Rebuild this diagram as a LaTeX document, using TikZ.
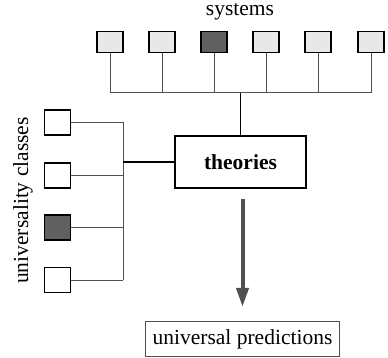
\documentclass[tikz,border=0pt]{standalone}
\usepackage{fontspec}
\setmainfont{Liberation Serif}
\usetikzlibrary{arrows.meta}
\definecolor{lightbox}{HTML}{E8E8E8}
\definecolor{darkbox}{HTML}{606060}
\definecolor{linegray}{HTML}{505050}
\begin{document}
\begin{tikzpicture}[x=1pt,y=-1pt,
  sysbox/.style={draw=black,line width=1.5pt,fill=lightbox,minimum width=26pt,minimum height=21pt,inner sep=0pt},
  clsbox/.style={draw=black,line width=1.5pt,fill=white,minimum width=26pt,minimum height=25pt,inner sep=0pt},
  darkfill/.style={fill=darkbox},
  conn/.style={draw=linegray,line width=1pt},
  trunk/.style={draw=black,line width=1.3pt},
  lbl/.style={font=\fontsize{21.5pt}{24pt}\selectfont,inner sep=0pt}]
\useasboundingbox (0,0) rectangle (388,358);
\node[lbl] (systems) at (240,12) {systems};
\foreach \i/\x in {1/110,2/162,3/214,4/266,5/318,6/371}{
  \node[sysbox] (s\i) at (\x,42) {};
}
\node[sysbox,darkfill] at (s3) {};
\coordinate (busY) at (0,93);
\foreach \i in {1,...,6}{
  \draw[conn] (s\i.south) -- (s\i.south |- busY);
}
\draw[conn] (s1.south |- busY) -- (s6.south |- busY);
\node[draw=black,line width=2.5pt,minimum width=131pt,minimum height=52pt,inner sep=0pt,lbl,font=\fontsize{21.5pt}{24pt}\selectfont\bfseries] (th) at (240.5,162) {theories};
\draw[trunk] (th.north) -- (th.north |- busY);
\foreach \i/\y in {1/122.5,2/175.5,3/227.5,4/280}{
  \node[clsbox] (c\i) at (57.5,\y) {};
}
\node[clsbox,darkfill] at (c3) {};
\coordinate (spineX) at (123,0);
\foreach \i in {1,...,4}{
  \draw[conn] (c\i.east) -- (c\i.east -| spineX);
}
\draw[conn] (c1.east -| spineX) -- (c4.east -| spineX);
\draw[trunk] (th.west) -- (th.west -| spineX);
\node[lbl,rotate=90] (ucl) at (23,200.5) {universality classes};
\node[draw=linegray,line width=1.2pt,minimum width=194pt,minimum height=35pt,inner sep=0pt,lbl] (up) at (242.5,339) {universal predictions};
\draw[draw=linegray,line width=4pt,-{Triangle[length=19pt,width=12pt]},shorten <=10pt,shorten >=14pt] (th.south -| up.north) -- (up.north);
\end{tikzpicture}
\end{document}
